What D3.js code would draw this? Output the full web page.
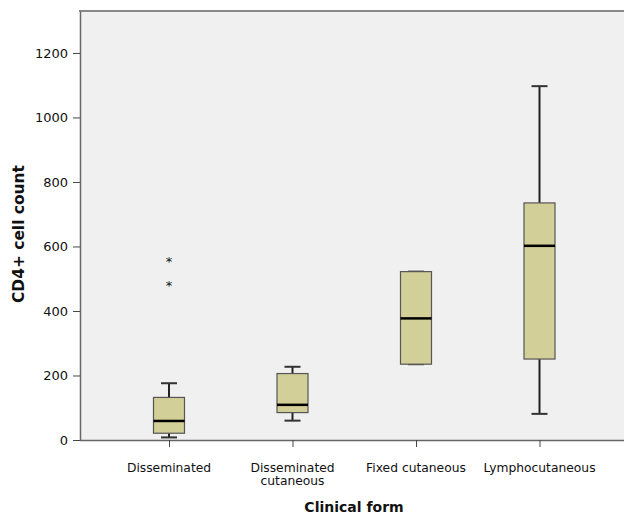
<!DOCTYPE html>
<html>
<head>
<meta charset="utf-8">
<script src="https://cdn.jsdelivr.net/npm/d3@7"></script>
<style>
  body { margin: 0; background: #fff; }
  svg text { font-family: "DejaVu Sans", sans-serif; fill: #111; }
</style>
</head>
<body>
<div id="chart"></div>
<script>
// box plot data
const categories = ["Disseminated", "Disseminated\ncutaneous", "Fixed cutaneous", "Lymphocutaneous"];
const whiskerLow = [8, 60, 235, 81];
const q1 = [21, 85, 235, 251];
const medians = [59, 109, 377, 602];
const q3 = [132, 206, 522, 735];
const whiskerHigh = [176, 227, 522, 1097];
const extremes = [[558, 484], [], [], []];
const yTicks = [0, 200, 400, 600, 800, 1000, 1200];

const W = 624, H = 516;
const margin = { top: 11, right: 0, bottom: 76, left: 80 };

const svg = d3.select("#chart").append("svg")
    .attr("width", W).attr("height", H);

const y = d3.scaleLinear().domain([0, 1330]).range([H - margin.bottom, margin.top]);
const x = d3.scalePoint().domain(d3.range(categories.length))
    .range([169, 539.5]);

// plot background
svg.append("rect")
    .attr("x", margin.left).attr("y", margin.top)
    .attr("width", W - margin.left).attr("height", y(0) - margin.top)
    .attr("fill", "#f0f0f0");
svg.append("line")
    .attr("x1", margin.left - 1).attr("x2", W)
    .attr("y1", margin.top).attr("y2", margin.top)
    .attr("stroke", "#888").attr("stroke-width", 2);

// y axis
const yAxis = svg.append("g")
    .attr("transform", `translate(${margin.left},0)`)
    .call(d3.axisLeft(y).tickValues(yTicks).tickFormat(d3.format("d"))
        .tickSize(7).tickSizeOuter(0).tickPadding(5));
yAxis.select(".domain").attr("stroke", "#666").attr("stroke-width", 1.5);
yAxis.selectAll(".tick line").attr("stroke", "#444");
yAxis.selectAll("text").style("font-size", "13px").attr("fill", "#111");

// x axis
const xAxis = svg.append("g")
    .attr("transform", `translate(0,${y(0)})`)
    .call(d3.axisBottom(x).tickSize(7).tickSizeOuter(0).tickFormat(""));
xAxis.select(".domain").attr("d", `M${margin.left},0.5H${W}`)
    .attr("stroke", "#666").attr("stroke-width", 1.5);
xAxis.selectAll(".tick line").attr("stroke", "#444");

categories.forEach((c, i) => {
    const t = svg.append("text")
        .attr("x", x(i)).attr("y", 472)
        .attr("text-anchor", "middle")
        .style("font-size", "12.3px");
    c.split("\n").forEach((line, j) => {
        t.append("tspan").attr("x", x(i)).attr("dy", j ? 13 : 0).text(line);
    });
});

// boxes
const boxW = 31, capW = 16;
const g = svg.append("g");
categories.forEach((c, i) => {
    const cx = x(i);
    // whiskers
    g.append("line").attr("x1", cx).attr("x2", cx)
        .attr("y1", y(whiskerHigh[i])).attr("y2", y(q3[i]))
        .attr("stroke", "#222").attr("stroke-width", 2);
    g.append("line").attr("x1", cx).attr("x2", cx)
        .attr("y1", y(q1[i])).attr("y2", y(whiskerLow[i]))
        .attr("stroke", "#222").attr("stroke-width", 2);
    [whiskerHigh[i], whiskerLow[i]].forEach(v => {
        g.append("line").attr("x1", cx - capW / 2).attr("x2", cx + capW / 2)
            .attr("y1", y(v)).attr("y2", y(v))
            .attr("stroke", "#333").attr("stroke-width", 2);
    });
    g.append("rect")
        .attr("x", cx - boxW / 2).attr("width", boxW)
        .attr("y", y(q3[i])).attr("height", y(q1[i]) - y(q3[i]))
        .attr("fill", "#d3cf98").attr("stroke", "#555").attr("stroke-width", 1.2);
    g.append("line").attr("x1", cx - boxW / 2).attr("x2", cx + boxW / 2)
        .attr("y1", y(medians[i])).attr("y2", y(medians[i]))
        .attr("stroke", "#000").attr("stroke-width", 2.5);
    extremes[i].forEach(v => {
        g.append("text").attr("x", cx).attr("y", y(v) + 6)
            .attr("text-anchor", "middle")
            .style("font-size", "13px").text("*");
    });
});

// axis titles
svg.append("text")
    .attr("transform", "translate(24,234) rotate(-90)")
    .attr("text-anchor", "middle")
    .style("font-size", "15.5px").style("font-weight", "bold")
    .attr("textLength", 138).attr("lengthAdjust", "spacingAndGlyphs")
    .text("CD4+ cell count");
svg.append("text")
    .attr("x", 354).attr("y", 512)
    .attr("text-anchor", "middle")
    .style("font-size", "14px").style("font-weight", "bold")
    .text("Clinical form");
</script>
</body>
</html>
